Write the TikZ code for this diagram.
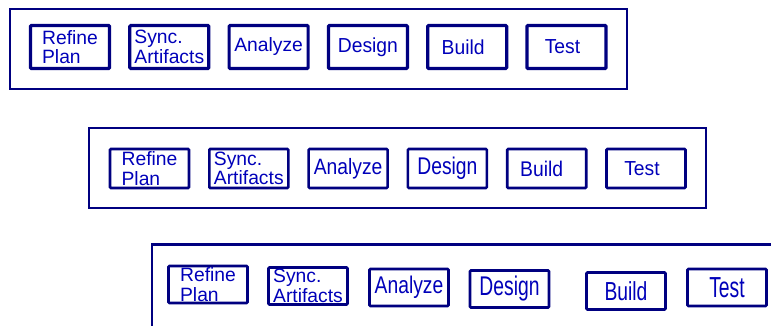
\documentclass[tikz,border=0pt]{standalone}
\usepackage{fontspec}
\setmainfont{Liberation Sans}
\usepackage{graphicx}
\usetikzlibrary{shapes, positioning}
\definecolor{boxnavy}{RGB}{0,0,128}
\definecolor{labelblue}{RGB}{0,0,185}
\newcommand{\stretchy}[2]{\scalebox{1}[#1]{#2}}
\tikzstyle{frame} =
        [
                draw = boxnavy,
                line width = 1.4pt
        ]
\tikzstyle{block} =
        [
                rectangle,
                draw = boxnavy,
                text = labelblue,
                line width = 3.2pt,
                minimum width = 79pt,
                minimum height = 43pt,
                inner sep = 0pt,
                align = left,
                rounded corners = 1pt,
                font = \fontsize{19.3}{19.5}\selectfont
        ]
\tikzstyle{flat block} =
        [
                block,
                line width = 2.6pt,
                minimum height = 39pt
        ]
\tikzstyle{low block} =
        [
                block,
                line width = 2.7pt,
                minimum height = 37pt
        ]

\begin{document}
\begin{tikzpicture}[x = 1pt, y = -1pt, node distance = 99.3pt]
        \clip (0,0) rectangle (771,326);

        % first row
        \draw [frame] (10,9) rectangle (627,89);
        \node [block] (plan1) at (70,47) {Refine\\Plan};
        \node [block, right of = plan1] (sync1) {Sync.\\Artifacts};
        \node [block, right of = sync1] (analyze1) {Analyze};
        \node [block, right of = analyze1] (design1) {\stretchy{1.05}{Design}};
        \node [block, right of = design1] (build1) {\stretchy{1.05}{Build}\hspace*{8pt}};
        \node [block, right of = build1] (test1) {\stretchy{1.05}{Test}\hspace*{8pt}};

        % second row
        \draw [frame, line width = 2pt] (89,128) rectangle (706,208);
        \node [flat block] (plan2) at (149.5,168.5) {Refine\\Plan};
        \node [flat block, right of = plan2] (sync2) {Sync.\\Artifacts};
        \node [flat block, right of = sync2] (analyze2) {\stretchy{1.15}{Analyze}};
        \node [flat block, right of = analyze2] (design2) {\raisebox{3pt}{\stretchy{1.25}{Design}}};
        \node [flat block, right of = design2] (build2) {\stretchy{1.1}{Build}\hspace*{10pt}};
        \node [flat block, right of = build2] (test2) {\stretchy{1.05}{Test}\hspace*{8pt}};

        % third row, runs off the page
        \draw [frame, line width = 2.6pt] (152,244.5) rectangle (820,360);
        \node [low block] (plan3) at (208,284.5) {Refine\\Plan};
        \node [low block, right of = plan3, node distance = 100pt, yshift = -1.5pt] (sync3) {Sync.\\Artifacts};
        \node [low block, right of = sync3, node distance = 101pt, yshift = -1.5pt] (analyze3) {\stretchy{1.25}{Analyze}};
        \node [low block, right of = analyze3, node distance = 100.5pt, yshift = -1.5pt] (design3) {\stretchy{1.4}{Design}};
        \node [low block, right of = design3, node distance = 116.5pt, yshift = -2pt] (build3) {\stretchy{1.35}{Build}};
        \node [low block, right of = build3, node distance = 101pt, yshift = 3.5pt] (test3) {\stretchy{1.5}{Test}};
\end{tikzpicture}
\end{document}
